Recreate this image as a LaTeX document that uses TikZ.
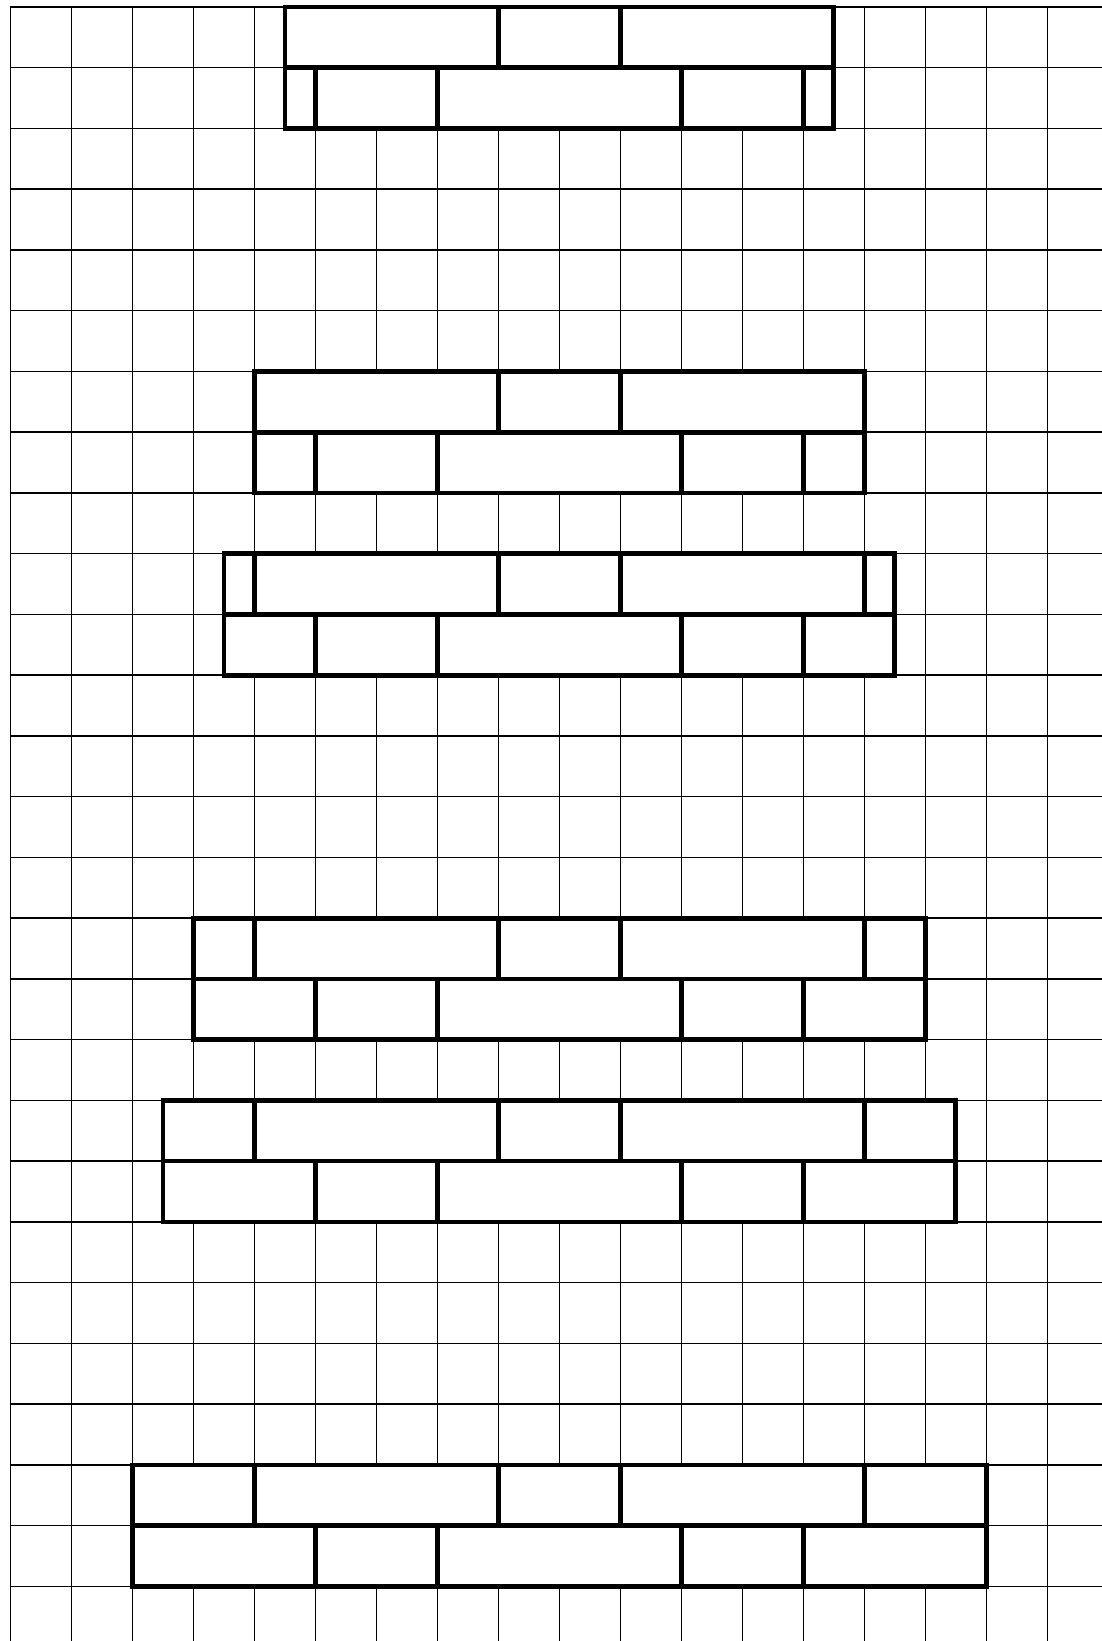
\documentclass[tikz,border=0pt]{standalone}
\usepackage{tikz}
\begin{document}
\begin{tikzpicture}[x=1.004cm, y=1cm,
  gridline/.style={draw=black, line width=0.7pt},
  brick/.style={draw=black, line width=2.2pt, fill=white},
  joint/.style={draw=black, line width=2.2pt}]
  \useasboundingbox (-0.172,0.115) rectangle (17.893,-26.9);
  % squared paper
  \foreach \c in {0,...,17}
    \draw[gridline] (\c,0) -- (\c,-26.9);
  \foreach \r in {0,...,26}
    \draw[gridline] (0,-\r) -- (17.893,-\r);
  % walls: left end / right end / top row
  \foreach \wl/\wr/\wt in {4.5/13.5/0, 4/14/6, 3.5/14.5/9, 3/15/15, 2.5/15.5/18, 2/16/24} {
    \draw[brick] (\wl,-\wt) rectangle (\wr,-\wt-2);
    \draw[joint] (\wl,-\wt-1) -- (\wr,-\wt-1);
    \begin{scope}
      \clip (\wl,-\wt) rectangle (\wr,-\wt-2);
      \foreach \j in {4,8,10,14}
        \draw[joint] (\j,-\wt) -- (\j,-\wt-1);
      \foreach \j in {5,7,11,13}
        \draw[joint] (\j,-\wt-1) -- (\j,-\wt-2);
    \end{scope}
  }
\end{tikzpicture}
\end{document}
